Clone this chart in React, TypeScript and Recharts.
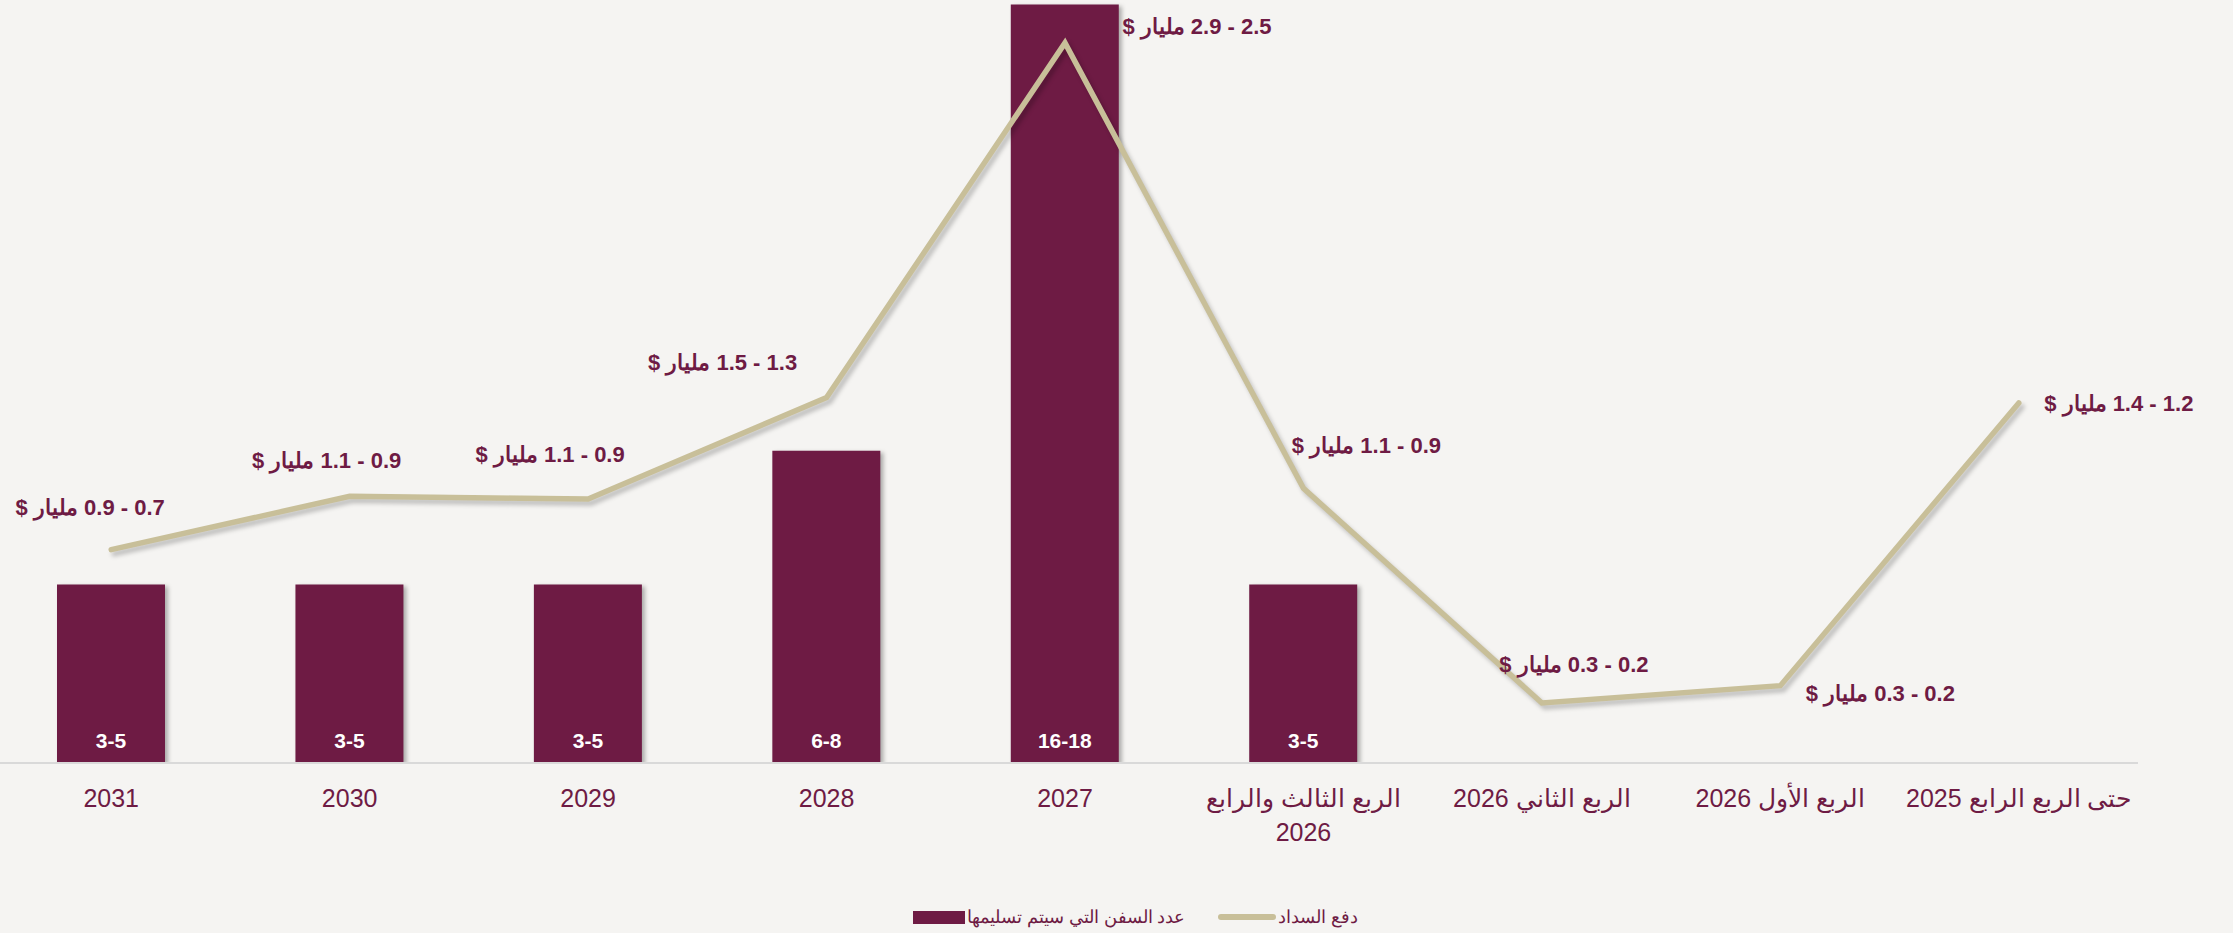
import { ComposedChart, Bar, Line, XAxis, YAxis, LabelList, Legend } from "recharts"

// Catégories dans l'ordre d'affichage (de gauche à droite)
const categories = [
  "2031",
  "2030",
  "2029",
  "2028",
  "2027",
  "الربع الثالث والرابع\n2026",
  "الربع الثاني 2026",
  "الربع الأول 2026",
  "حتى الربع الرابع 2025",
]

// Nombre de navires livrés (milieu de la fourchette) et texte de la fourchette
const shipsMid = [4, 4, 4, 7, 17, 4, null, null, null]
const shipsRange = ["3-5", "3-5", "3-5", "6-8", "16-18", "3-5", "", "", ""]

// Paiement (milliards $) : position de la ligne + bornes affichées
const paymentValue = [0.8, 1.0, 0.99, 1.37, 2.7, 1.03, 0.225, 0.29, 1.35]
const paymentLow = [0.7, 0.9, 0.9, 1.3, 2.5, 0.9, 0.2, 0.2, 1.2]
const paymentHigh = [0.9, 1.1, 1.1, 1.5, 2.9, 1.1, 0.3, 0.3, 1.4]

const legendBars = "عدد السفن التي سيتم تسليمها"
const legendLine = "دفع السداد"

// placement des étiquettes de la ligne (décalage depuis le point)
const payLabelShift = [
  [-21, -42],
  [-23, -36],
  [-38, -44],
  [-104, -35],
  [132, -16],
  [63, -43],
  [32, -38],
  [100, 8],
  [100, 1],
]

const MAROON = "#6E1B44"
const GOLD = "#C8BF99"
const FONT = "'Liberation Sans', Arial, sans-serif"

const data = categories.map((name, i) => ({
  name,
  ships: shipsMid[i],
  shipsLabel: shipsRange[i],
  payment: paymentValue[i],
  paymentLabel: `${paymentLow[i].toFixed(1)} - ${paymentHigh[i].toFixed(1)} مليار $`,
}))

const CategoryTick = (props: any) => {
  const { x, y, payload } = props
  const lines = String(payload.value).split("\n")
  return (
    <text x={x} y={y} textAnchor="middle" direction="rtl" fill={MAROON} fontSize={25} fontFamily={FONT}>
      {lines.map((line, i) => (
        <tspan key={i} x={x} dy={i === 0 ? 44 : 34}>
          {line}
        </tspan>
      ))}
    </text>
  )
}

const renderShipsLabel = (props: any) => {
  const vb = props.viewBox || {}
  const x = (props.x ?? vb.x) + (props.width ?? vb.width ?? 0) / 2
  const top = props.y ?? vb.y
  const h = props.height ?? vb.height ?? 0
  if (!props.value) return null
  return (
    <text
      x={x}
      y={top + h - 15}
      textAnchor="middle"
      fill="#ffffff"
      fontSize={21}
      fontWeight="bold"
      fontFamily={FONT}
    >
      {props.value}
    </text>
  )
}

const renderPaymentLabel = (props: any) => {
  const vb = props.viewBox || {}
  const px = props.x ?? vb.x
  const py = props.y ?? vb.y
  const [dx, dy] = payLabelShift[props.index] || [0, -30]
  return (
    <text
      x={px + dx}
      y={py + dy}
      textAnchor="middle"
      dominantBaseline="central"
      direction="rtl"
      fill={MAROON}
      fontSize={22}
      fontWeight="bold"
      fontFamily={FONT}
    >
      {props.value}
    </text>
  )
}

const LegendContent = () => (
  <div
    style={{
      display: "flex",
      alignItems: "center",
      height: 34,
      paddingLeft: 921,
      fontFamily: FONT,
      fontSize: 17.5,
      color: MAROON,
      whiteSpace: "nowrap",
    }}
  >
    <span style={{ display: "inline-block", width: 52, height: 13, background: MAROON }} />
    <span style={{ direction: "rtl", marginLeft: 2 }}>{legendBars}</span>
    <span
      style={{ display: "inline-block", width: 58, height: 6, borderRadius: 3, background: GOLD, marginLeft: 33 }}
    />
    <span style={{ direction: "rtl", marginLeft: 2 }}>{legendLine}</span>
  </div>
)

export default function App() {
  return (
    <div
      style={{
        position: "absolute",
        left: 0,
        top: 0,
        width: 2233,
        height: 933,
        background: "#F5F4F2",
        overflow: "hidden",
      }}
    >
      <style>{`
        .recharts-bar-rectangle path { filter: drop-shadow(3px 2px 2px rgba(0,0,0,0.3)); }
        .recharts-line-curve { filter: drop-shadow(3px 4px 2px rgba(0,0,0,0.22)); }
      `}</style>
      <div style={{ position: "absolute", left: -8, top: 0 }}>
        <ComposedChart width={2241} height={933} data={data} margin={{ top: 0, right: 95, bottom: 0, left: 0 }}>
          <XAxis
            dataKey="name"
            interval={0}
            height={170}
            tickSize={0}
            tickMargin={0}
            tickLine={false}
            axisLine={{ stroke: "#D9D9D9", strokeWidth: 2 }}
            tick={<CategoryTick />}
          />
          <YAxis yAxisId="ships" hide domain={[0, 17.1]} allowDataOverflow />
          <YAxis yAxisId="pay" orientation="right" hide domain={[0, 2.861]} allowDataOverflow />
          <Legend
            layout="horizontal"
            verticalAlign="middle"
            align="center"
            wrapperStyle={{ top: 900, left: 0, width: 2241, height: 34 }}
            content={<LegendContent />}
          />
          <Bar yAxisId="ships" dataKey="ships" fill={MAROON} barSize={108} isAnimationActive={false}>
            <LabelList dataKey="shipsLabel" content={renderShipsLabel} />
          </Bar>
          <Line
            yAxisId="pay"
            type="linear"
            dataKey="payment"
            stroke={GOLD}
            strokeWidth={5.5}
            strokeLinecap="round"
            strokeLinejoin="miter"
            dot={false}
            activeDot={false}
            isAnimationActive={false}
          >
            <LabelList dataKey="paymentLabel" content={renderPaymentLabel} />
          </Line>
        </ComposedChart>
      </div>
    </div>
  )
}
